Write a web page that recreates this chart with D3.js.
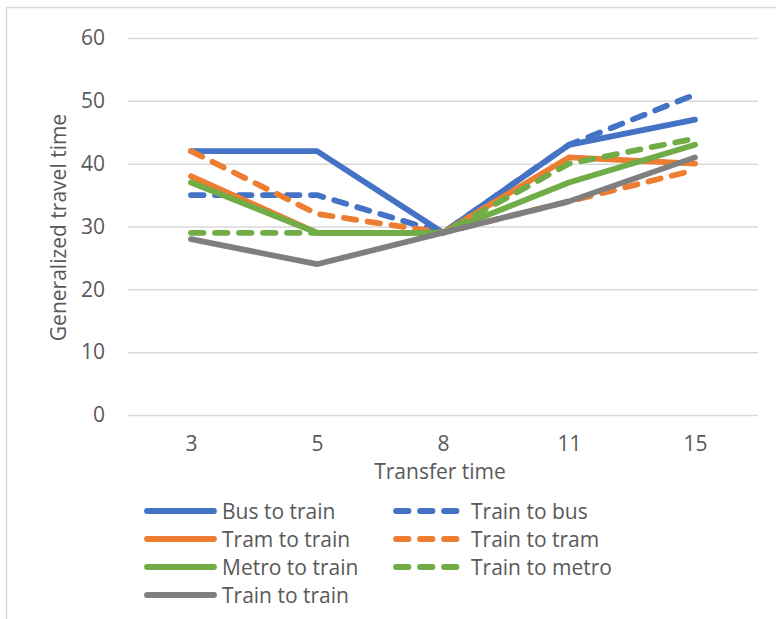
<!DOCTYPE html>
<html>
<head>
<meta charset="utf-8">
<script src="https://cdn.jsdelivr.net/npm/d3@7"></script>
<style>
  html, body { margin: 0; padding: 0; background: #fff; }
  svg { display: block; }
  text { font-family: "Open Sans", "Noto Sans", sans-serif; fill: #595959; }
</style>
</head>
<body>
<svg id="chart" width="776" height="619"></svg>
<script>
// Transfer times (categories on the x axis)
const transferTimes = ["3", "5", "8", "11", "15"];

// Generalized travel time per transfer type
const busToTrain   = [42, 42, 29, 43, 47];
const trainToBus   = [35, 35, 29, 43, 51];
const tramToTrain  = [38, 29, 29, 41, 40];
const trainToTram  = [42, 32, 29, 34, 39];
const metroToTrain = [37, 29, 29, 37, 43];
const trainToMetro = [29, 29, 29, 40, 44];
const trainToTrain = [28, 24, 29, 34, 41];

const yTicks = [0, 10, 20, 30, 40, 50, 60];

const series = [
  { name: "Bus to train",   values: busToTrain,   color: "#4472C4", dashed: false },
  { name: "Train to bus",   values: trainToBus,   color: "#4472C4", dashed: true  },
  { name: "Tram to train",  values: tramToTrain,  color: "#ED7D31", dashed: false },
  { name: "Train to tram",  values: trainToTram,  color: "#ED7D31", dashed: true  },
  { name: "Metro to train", values: metroToTrain, color: "#70AD47", dashed: false },
  { name: "Train to metro", values: trainToMetro, color: "#70AD47", dashed: true  },
  { name: "Train to train", values: trainToTrain, color: "#7F7F7F", dashed: false }
];

const svg = d3.select("#chart");
const plot = { left: 128, right: 758, top: 38, bottom: 415 };
const fontSize = 21;
const lineWidth = 5.8;
const dash = "12.5,11.5";

// Chart area frame
svg.append("rect")
  .attr("x", 6.5).attr("y", 7.5)
  .attr("width", 800).attr("height", 700)
  .attr("fill", "none")
  .attr("stroke", "#d9d9d9")
  .attr("stroke-width", 1.5);

const x = d3.scalePoint()
  .domain(transferTimes)
  .range([plot.left, plot.right])
  .padding(0.5);

const y = d3.scaleLinear()
  .domain([0, 60])
  .range([plot.bottom, plot.top]);

// Horizontal gridlines with value labels
const yAxis = d3.axisLeft(y)
  .tickValues(yTicks)
  .tickSize(-(plot.right - plot.left))
  .tickPadding(23)
  .tickFormat(d3.format("d"));

const gy = svg.append("g")
  .attr("transform", `translate(${plot.left},0)`)
  .call(yAxis);
gy.select(".domain").remove();
gy.selectAll(".tick line")
  .attr("stroke", "#d9d9d9")
  .attr("stroke-width", 1.5);
gy.selectAll(".tick text")
  .attr("font-size", fontSize)
  .attr("font-family", null)
  .attr("fill", "#595959");

// Category labels below the plot
const xAxis = d3.axisBottom(x).tickSize(0).tickPadding(21);
const gx = svg.append("g")
  .attr("transform", `translate(0,${plot.bottom})`)
  .call(xAxis);
gx.select(".domain").remove();
gx.selectAll(".tick text")
  .attr("font-size", fontSize)
  .attr("font-family", null)
  .attr("fill", "#595959");

// Axis titles
svg.append("text")
  .attr("x", (plot.left + plot.right) / 2 - 3)
  .attr("y", 471)
  .attr("text-anchor", "middle")
  .attr("dominant-baseline", "central")
  .attr("font-size", fontSize)
  .text("Transfer time");

svg.append("text")
  .attr("transform", `translate(58,${(plot.top + plot.bottom) / 2 + 1}) rotate(-90)`)
  .attr("text-anchor", "middle")
  .attr("dominant-baseline", "central")
  .attr("font-size", fontSize)
  .text("Generalized travel time");

// Series lines
const line = d3.line()
  .x((d, i) => x(transferTimes[i]))
  .y(d => y(d));

svg.append("g")
  .selectAll("path")
  .data(series)
  .join("path")
  .attr("d", d => line(d.values))
  .attr("fill", "none")
  .attr("stroke", d => d.color)
  .attr("stroke-width", lineWidth)
  .attr("stroke-linecap", "round")
  .attr("stroke-linejoin", "round")
  .attr("stroke-dasharray", d => d.dashed ? dash : null);

// Legend: two columns, filled row by row
const legend = svg.append("g");
const colX = [147, 396];
const rowY0 = 511, rowStep = 28, swatch = 67;

const items = legend.selectAll("g")
  .data(series)
  .join("g")
  .attr("transform", (d, i) => `translate(${colX[i % 2]},${rowY0 + Math.floor(i / 2) * rowStep})`);

items.append("line")
  .attr("x1", 0).attr("x2", swatch)
  .attr("y1", 0).attr("y2", 0)
  .attr("stroke", d => d.color)
  .attr("stroke-width", lineWidth)
  .attr("stroke-linecap", "round")
  .attr("stroke-dasharray", d => d.dashed ? dash : null);

items.append("text")
  .attr("x", swatch + 8)
  .attr("y", 0)
  .attr("dominant-baseline", "central")
  .attr("font-size", fontSize)
  .text(d => d.name);
</script>
</body>
</html>
